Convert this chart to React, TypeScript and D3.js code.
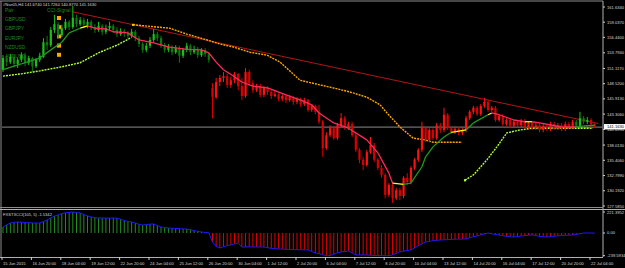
import React, { useEffect } from 'react';
import * as d3 from 'd3';

// H4 bars, [open, high, low, close]
const candles: [number, number, number, number][] = [
  [150.9, 153.4, 150.5, 152.9], [152.9, 153.3, 151.5, 152.2], [152.2, 153.6, 151.9, 153.1], [153.1, 153.4, 151.4, 151.9],
  [151.9, 152.9, 151.2, 152.6], [152.6, 153.9, 152.2, 153.4], [153.4, 153.8, 151.5, 152.1], [152.1, 153.3, 151.7, 152.9],
  [152.9, 153.1, 150.5, 151.5], [151.5, 152.9, 151.2, 152.6], [152.6, 153.8, 152.2, 153.3], [153.1, 156.3, 152.9, 155.6],
  [155.6, 156.7, 154.3, 155.1], [155.1, 158.2, 154.8, 157.7], [157.7, 160.3, 157.2, 158.7], [158.7, 159.1, 156.3, 156.8],
  [156.8, 158.6, 156.5, 158.0], [158.0, 159.6, 157.7, 159.1], [159.1, 159.4, 157.7, 158.2], [158.2, 161.8, 157.9, 159.8],
  [159.8, 160.3, 158.2, 158.7], [158.7, 159.9, 158.4, 159.4], [159.4, 159.8, 158.0, 158.6], [158.6, 159.6, 158.0, 159.1],
  [159.1, 159.4, 157.7, 158.2], [158.2, 158.7, 157.2, 157.7], [157.7, 159.1, 157.4, 158.4], [158.4, 158.7, 156.8, 157.4],
  [157.4, 158.6, 157.0, 158.0], [158.0, 159.1, 157.5, 158.4], [158.4, 158.7, 157.2, 157.7], [157.7, 158.2, 156.5, 157.0],
  [157.0, 158.0, 156.7, 157.5], [157.5, 157.9, 156.5, 157.2], [157.2, 157.5, 156.2, 156.7], [156.7, 157.9, 156.3, 157.4],
  [157.4, 157.7, 155.8, 156.3], [156.3, 156.7, 154.8, 155.3], [155.3, 155.6, 153.8, 154.3], [154.3, 155.5, 153.9, 155.0],
  [155.0, 156.5, 154.6, 156.0], [156.0, 157.9, 155.6, 157.0], [157.0, 157.4, 155.8, 156.3], [156.3, 156.7, 154.6, 155.1],
  [155.1, 155.5, 153.8, 154.3], [154.3, 155.3, 153.9, 154.8], [154.8, 155.1, 153.4, 153.9], [153.9, 155.1, 153.6, 154.6],
  [154.6, 155.0, 152.1, 153.3], [153.3, 154.6, 152.9, 154.3], [154.3, 155.5, 153.9, 155.0], [155.0, 155.3, 153.4, 153.9],
  [153.9, 155.0, 153.6, 154.4], [154.4, 154.8, 152.9, 153.4], [153.4, 154.6, 153.1, 154.3], [154.3, 154.6, 153.1, 153.6],
  [153.6, 153.9, 152.1, 152.6], [147.8, 148.6, 142.6, 146.2], [146.2, 149.5, 145.9, 148.8], [148.8, 150.0, 148.1, 149.5],
  [149.5, 150.5, 148.8, 149.8], [149.8, 150.2, 147.8, 148.3], [148.3, 149.7, 147.8, 149.1], [149.1, 150.5, 148.6, 150.2],
  [150.2, 150.3, 147.4, 148.1], [148.1, 149.5, 145.7, 146.4], [146.4, 151.2, 146.1, 150.5], [150.5, 150.9, 148.1, 148.6],
  [148.6, 149.1, 146.9, 147.4], [147.4, 148.5, 147.1, 148.1], [148.1, 148.5, 146.2, 146.6], [146.6, 148.1, 146.2, 147.8],
  [147.8, 148.1, 146.6, 147.1], [147.1, 147.4, 145.9, 146.4], [146.4, 147.3, 146.2, 146.7], [146.7, 146.9, 145.5, 145.9],
  [145.9, 146.7, 145.5, 146.4], [146.4, 146.6, 145.2, 145.7], [145.7, 146.6, 145.4, 146.2], [146.2, 146.4, 144.9, 145.4],
  [145.4, 146.2, 145.0, 145.9], [145.9, 146.1, 144.5, 145.0], [145.0, 146.1, 144.7, 145.7], [145.7, 145.9, 143.7, 144.0],
  [144.0, 145.0, 143.7, 144.7], [144.7, 144.9, 143.3, 143.7], [143.7, 144.9, 141.6, 142.0], [142.0, 142.3, 136.0, 137.5],
  [137.5, 140.2, 137.2, 139.7], [139.7, 141.4, 139.4, 140.9], [140.9, 141.3, 138.9, 139.2], [139.2, 141.8, 138.9, 141.4],
  [141.4, 143.5, 141.1, 142.6], [142.6, 143.0, 140.6, 140.9], [140.9, 142.0, 140.6, 141.6], [141.6, 142.0, 139.4, 139.7],
  [139.7, 140.1, 136.8, 137.2], [137.2, 137.5, 134.9, 135.5], [135.5, 136.0, 133.7, 134.6], [134.6, 137.2, 134.3, 136.8],
  [136.8, 139.4, 136.5, 138.0], [138.0, 138.4, 135.1, 135.5], [135.5, 135.8, 133.7, 134.1], [134.1, 134.6, 132.4, 132.9],
  [132.9, 133.2, 128.9, 129.5], [129.5, 131.5, 129.1, 131.2], [131.2, 131.5, 128.1, 128.9], [128.9, 130.7, 128.6, 130.3],
  [130.3, 130.7, 128.6, 129.3], [129.3, 132.7, 128.9, 132.4], [132.4, 133.2, 131.2, 131.7], [131.7, 134.4, 131.3, 134.1],
  [134.1, 135.8, 133.7, 135.5], [135.5, 137.5, 135.1, 137.2], [137.2, 142.0, 136.8, 140.9], [140.9, 141.3, 138.5, 138.9],
  [138.9, 140.9, 138.5, 140.6], [140.6, 140.9, 138.9, 139.2], [139.2, 141.8, 138.9, 141.4], [141.4, 141.8, 140.1, 140.6],
  [140.6, 144.4, 140.2, 143.2], [143.2, 143.5, 140.6, 140.9], [140.9, 141.3, 139.9, 140.2], [140.2, 141.1, 139.9, 140.8],
  [140.8, 141.1, 139.7, 140.1], [140.1, 140.9, 139.7, 140.6], [140.6, 143.0, 140.2, 142.6], [142.6, 144.0, 142.3, 143.7],
  [143.7, 144.7, 143.3, 144.4], [144.4, 144.7, 143.0, 143.3], [143.3, 145.0, 143.0, 144.7], [144.7, 146.1, 144.4, 145.4],
  [145.4, 145.7, 143.7, 144.0], [144.0, 144.7, 143.7, 144.4], [144.4, 144.7, 142.0, 142.3], [142.3, 143.3, 142.0, 143.0],
  [143.0, 143.3, 141.3, 141.6], [141.6, 142.6, 141.3, 142.3], [142.3, 142.6, 140.9, 141.3], [141.3, 142.3, 140.9, 142.0],
  [142.0, 142.3, 141.1, 141.4], [141.4, 142.5, 141.1, 142.1], [142.1, 142.5, 140.8, 141.1], [141.1, 142.1, 140.8, 141.8],
  [141.8, 142.1, 140.6, 140.9], [140.9, 141.8, 140.6, 141.4], [141.4, 141.8, 140.2, 140.6], [140.6, 141.6, 140.2, 141.3],
  [141.3, 141.6, 140.4, 140.8], [140.8, 142.0, 140.4, 141.6], [141.6, 142.0, 140.6, 140.9], [140.9, 141.8, 140.6, 141.4],
  [141.4, 141.8, 140.4, 140.8], [140.8, 142.0, 140.4, 141.6], [141.6, 142.0, 140.8, 141.1], [141.1, 142.3, 140.8, 142.0],
  [142.0, 142.3, 140.9, 141.3], [141.3, 143.7, 140.9, 142.6], [142.6, 143.0, 141.6, 142.0], [142.0, 142.8, 141.6, 142.3],
  [142.3, 142.6, 140.9, 141.6], [141.674, 141.726, 140.877, 141.163],
];

// bar ranges painted green by the trend filter, the rest red
const greenRanges: [number, number][] = [[0, 56], [156, 159]];

// fast MA, [bar, price], with the colour of each segment that follows
const fastMa: [number, number][] = [
  [0, 150.9], [5, 151.9], [10, 152.9], [13, 154.3], [16, 155.6], [18, 157.2], [21, 158.0], [23, 158.4],
  [25, 158.0], [28, 157.9], [30, 157.4], [34, 157.2], [37, 156.0], [41, 155.5], [45, 154.8], [50, 154.4],
  [54, 154.3], [56, 153.8], [58, 152.2], [60, 150.9], [63, 149.7], [65, 148.8], [68, 148.1], [72, 147.8],
  [77, 146.6], [81, 145.7], [84, 144.9], [86, 143.5], [90, 141.8], [94, 140.9], [99, 138.9], [102, 136.7],
  [105, 133.2], [106, 131.5], [109, 131.3], [111, 131.5], [114, 134.3], [115, 136.0], [117, 137.7], [120, 139.4],
  [122, 140.2], [126, 140.6], [128, 141.8], [132, 143.2], [133, 143.5], [135, 143.2], [139, 142.3], [142, 142.0],
  [144, 142.0], [146, 141.8], [152, 141.1], [156, 141.1], [158, 141.3], [161, 141.4],
];
const fastMaSeg = [
  'g', 'g', 'g', 'g', 'g', 'g', 'y', 'r', 'r', 'r', 'r', 'r', 'r', 'r', 'r', 'r', 'r', 'r',
  'r', 'r', 'r', 'r', 'r', 'r', 'r', 'r', 'r', 'r', 'r', 'r', 'r', 'r', 'r', 'y', 'g', 'g',
  'g', 'g', 'g', 'g', 'y', 'g', 'g', 'y', 'r', 'r', 'r', 'y', 'r', 'r', 'r', 'g', 'g',
];

// slow step line: rising, falling, rising again
const slowUpA: [number, number][] = [
  [0, 149.8], [5, 150.2], [10, 150.7], [16, 151.4], [21, 152.1], [26, 153.8], [31, 155.1], [34.6, 156.3],
];
const slowDown: [number, number][] = [
  [35.4, 158.6], [42, 158.2], [45.4, 158.0], [50, 157.0], [55.5, 156.0], [59, 155.3], [62.6, 154.8], [67.2, 153.9],
  [71.8, 153.4], [75.4, 152.2], [78.9, 150.2], [80.8, 149.1], [86.3, 148.3], [89.8, 147.8], [94.4, 147.1], [99, 146.2],
  [102.6, 144.9], [104.5, 143.5], [108, 141.1], [111.6, 139.2], [114.8, 138.9], [117, 138.5], [124.9, 138.5],
];
const slowUpB: [number, number][] = [
  [125.7, 132.0], [128, 132.9], [131.7, 135.5], [134.4, 137.7], [137.1, 140.1], [140.7, 140.6], [144.2, 140.9],
  [151.6, 140.9], [160.5, 140.9],
];

const trendLine: [number, number][] = [[19, 160.8], [162, 141.7]];

const cci = [
  63, 85, 105, 112, 116, 114, 110, 108, 106, 105, 105, 120, 137, 160, 178, 190, 205, 213, 218, 221,
  216, 211, 195, 180, 169, 162, 158, 158, 158, 157, 158, 156, 145, 132, 122, 116, 105, 92, 84, 88,
  93, 95, 78, 63, 58, 53, 50, 48, 45, 43, 42, 35, 26, 18, 11, 5, 2, -95, -140, -158,
  -145, -132, -126, -115, -105, -148, -148, -146, -148, -147, -148, -148, -155, -162, -166, -169, -170, -172, -174, -175,
  -176, -177, -178, -179, -195, -211, -218, -230, -239, -239, -225, -210, -200, -195, -190, -210, -232, -232, -232, -232,
  -235, -237, -239, -239, -239, -239, -230, -215, -200, -192, -185, -179, -158, -135, -115, -95, -88, -82, -78, -74,
  -72, -70, -68, -66, -65, -64, -63, -50, -40, -32, -20, -10, 0, -8, -15, -21, -28, -35, -40, -42,
  -38, -32, -27, -23, -21, -28, -35, -40, -42, -38, -34, -30, -27, -25, -23, -21, -15, -8, 0, 0,
  0, -1.5342,
];

const priceTicks = [161.634, 159.037, 156.44, 153.794, 151.117, 148.52, 145.913, 143.306, 140.699, 138.013, 135.406, 132.799, 130.192, 127.585];
const cciTicks = [221.3952, 0, -239.5934];
const timeLabels = [
  '15 Jun 2015', '16 Jun 20:00', '18 Jun 04:00', '19 Jun 12:00', '22 Jun 20:00', '24 Jun 04:00', '25 Jun 12:00',
  '26 Jun 20:00', '30 Jun 04:00', '1 Jul 12:00', '2 Jul 20:00', '6 Jul 04:00', '7 Jul 12:00', '8 Jul 20:00',
  '10 Jul 04:00', '13 Jul 12:00', '14 Jul 20:00', '16 Jul 04:00', '17 Jul 12:00', '20 Jul 20:00', '22 Jul 04:00',
];
const pairs = ['Pair', 'GBPUSD', 'GBPJPY', 'EURJPY', 'NZDUSD', 'AUDUSD'];
const header = '#Nse05,H4  141.6740 141.7260 140.8770 141.1630';
const cciTitle = 'FXST3CCI(105, 5) -1.5342';
const lastPrice = 141.163;

const segColor: Record<string, string> = { g: '#1e9a1e', y: '#ffff00', r: '#ff2a5a' };
const font = '"Liberation Sans", Arial, sans-serif';
const fs = 4.1;

const App: React.FC = () => {
  useEffect(() => {
    document.body.style.margin = '0';
    document.body.style.background = '#000';
  }, []);

  const W = 625, H = 268;
  const axisX = 603;
  const x = d3.scaleLinear().domain([0, 161]).range([3, 3 + 161 * 3.675]);
  const y = d3.scaleLinear().domain([127.585, 161.634]).range([206, 7]);
  const yc = d3.scaleLinear().domain([-239.5934, 221.3952]).range([255.7, 212]);
  const line = d3.line<[number, number]>().x(d => x(d[0])).y(d => y(d[1]));
  const isGreen = (i: number) => greenRanges.some(([a, b]) => i >= a && i <= b);

  return (
    <svg width={W} height={H} style={{ display: 'block', background: '#000' }} fontFamily={font}>
      <rect width={W} height={H} fill="#000" />

      {/* frames */}
      <line x1={0} x2={axisX} y1={1} y2={1} stroke="#8c8c8c" />
      <line x1={1} x2={1} y1={1} y2={257} stroke="#8c8c8c" />
      <line x1={axisX} x2={axisX} y1={1} y2={257} stroke="#b0b0b0" />
      <line x1={0} x2={axisX} y1={207.5} y2={207.5} stroke="#8c8c8c" />
      <line x1={0} x2={W} y1={209.5} y2={209.5} stroke="#b0b0b0" />
      <line x1={0} x2={axisX} y1={257.5} y2={257.5} stroke="#b0b0b0" />

      {/* signal table */}
      {pairs.map((p, i) => (
        <text key={p} x={5} y={12 + i * 9.2} fontSize={4.9} fill="#1d8a1d">{p}</text>
      ))}
      <text x={47} y={12} fontSize={4.9} fill="#1d8a1d">CCI-Signal</text>
      {pairs.slice(1).map((p, i) => (
        <rect key={'s' + p} x={57} y={16 + i * 9.2} width={4} height={4} fill="#ffa500" />
      ))}

      {/* current price line */}
      <line x1={2} x2={axisX} y1={y(lastPrice) + 0.5} y2={y(lastPrice) + 0.5} stroke="#6e6e6e" strokeWidth={1.2} />

      {/* trend line */}
      <path d={line(trendLine) || ''} stroke="#b31515" strokeWidth={1} fill="none" />

      {/* slow step line */}
      <path d={line(slowUpA) || ''} stroke="#adff2f" strokeWidth={1.4} strokeDasharray="2,1" fill="none" />
      <path d={line(slowDown) || ''} stroke="#ffa500" strokeWidth={1.4} strokeDasharray="2,1" fill="none" />
      <path d={line(slowUpB) || ''} stroke="#adff2f" strokeWidth={1.4} strokeDasharray="2,1" fill="none" />
      <rect x={x(slowDown[0][0]) - 1} y={y(slowDown[0][1]) - 1} width={2.2} height={2.2} fill="#ffd000" />
      <rect x={x(slowUpB[0][0]) - 1} y={y(slowUpB[0][1]) - 1} width={2.2} height={2.2} fill="#adff2f" />

      {/* candles */}
      {candles.map(([o, h, l, c], i) => {
        const green = isGreen(i);
        const bull = c >= o;
        const col = green ? (bull ? '#18c018' : '#0c7a0c') : (bull ? '#ff1010' : '#d80000');
        const cx = x(i);
        const top = y(Math.max(o, c));
        const bh = Math.max(1, y(Math.min(o, c)) - top);
        return (
          <g key={i}>
            <line x1={cx} x2={cx} y1={y(h)} y2={y(l)} stroke={col} strokeWidth={1} />
            <rect x={cx - 1.1} y={top} width={2.2} height={bh} fill={col} />
          </g>
        );
      })}

      {/* fast MA */}
      {fastMa.slice(1).map((p, i) => (
        <path key={'f' + i} d={line([fastMa[i], p]) || ''} stroke={segColor[fastMaSeg[i]]} strokeWidth={1.3} fill="none" />
      ))}

      {/* header */}
      <text x={3} y={6} fontSize={fs} fill="#d8d8d8">{header}</text>

      {/* price axis */}
      {priceTicks.map(t => (
        <g key={t}>
          <line x1={axisX} x2={axisX + 2} y1={y(t)} y2={y(t)} stroke="#d0d0d0" />
          <text x={axisX + 4} y={y(t) + 1.5} fontSize={fs} fill="#d8d8d8">{t.toFixed(4)}</text>
        </g>
      ))}
      <rect x={axisX + 1} y={y(lastPrice) - 2.6} width={W - axisX - 1} height={5.4} fill="#ffffff" />
      <text x={axisX + 4} y={y(lastPrice) + 1.5} fontSize={fs} fill="#000">{lastPrice.toFixed(4)}</text>

      {/* CCI window */}
      {cci.map((v, i) => (
        <line key={'h' + i} x1={x(i)} x2={x(i)} y1={yc(0)} y2={yc(v)} stroke={v >= 0 ? '#1f8f1f' : '#e00000'} strokeWidth={1} />
      ))}
      <path d={d3.line<number>().x((_, i) => x(i)).y(v => yc(v))(cci) || ''} stroke="#1a1aff" strokeWidth={1} fill="none" />
      <text x={3} y={215.5} fontSize={fs} fill="#d8d8d8">{cciTitle}</text>
      {cciTicks.map(t => (
        <g key={t}>
          <line x1={axisX} x2={axisX + 2} y1={yc(t)} y2={yc(t)} stroke="#d0d0d0" />
          <text x={axisX + 4} y={yc(t) + 1.5} fontSize={fs} fill="#d8d8d8">{t === 0 ? '0.00' : t.toFixed(4)}</text>
        </g>
      ))}

      {/* time axis */}
      {timeLabels.map((t, k) => (
        <g key={t}>
          <line x1={x(k * 8) - 1} x2={x(k * 8) - 1} y1={257} y2={260} stroke="#d0d0d0" />
          <text x={x(k * 8)} y={264.5} fontSize={fs} fill="#d8d8d8">{t}</text>
        </g>
      ))}
    </svg>
  );
};

export default App;
